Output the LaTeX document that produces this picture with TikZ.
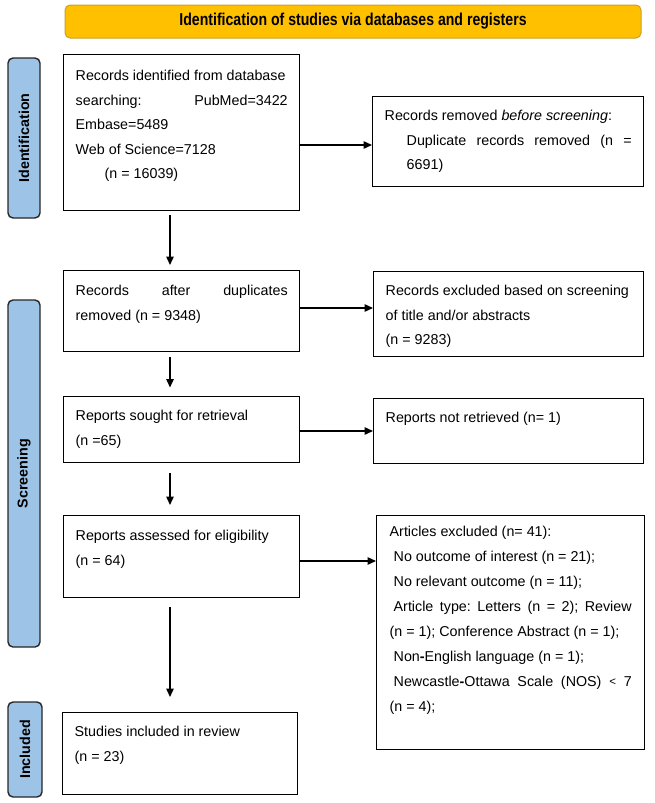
\documentclass[tikz,border=0pt]{standalone}
\usepackage{fontspec}
\setmainfont{Liberation Sans}
\newfontfamily\bannerfont{Liberation Sans}[FakeStretch=0.82]
\usetikzlibrary{arrows.meta}
\definecolor{bannerfill}{HTML}{FFC000}
\definecolor{bannerline}{HTML}{C9A02C}
\definecolor{phasefill}{HTML}{9DC3E6}
\definecolor{phaseline}{HTML}{262626}
\newcommand{\bt}[4]{\parbox[c][#2][t]{#1}{\fontsize{14.3}{24.5}\selectfont\rule{0pt}{#3}\ignorespaces#4}}
\newcommand{\btw}[4]{\parbox[c][#2][t]{#1}{\fontsize{14.3}{25}\selectfont\rule{0pt}{#3}\ignorespaces#4}}
\newcommand{\phaselabel}[1]{\rotatebox{90}{\fontsize{14.3}{17}\selectfont\bfseries #1}}
\begin{document}
\begin{tikzpicture}[x=1pt,y=-1pt,
  box/.style={draw, line width=1.4pt, inner sep=0pt, anchor=north west},
  phase/.style={draw=phaseline, fill=phasefill, rounded corners=5pt, line width=1.4pt, inner sep=0pt},
  banner/.style={draw=bannerline, fill=bannerfill, rounded corners=5pt, line width=1pt, inner sep=0pt},
  arr/.style={line width=1.4pt, -{Triangle[length=8.5pt,width=7.5pt]}}]
\useasboundingbox (0,0) rectangle (654,803);
% banner
\node[banner, minimum width=576pt, minimum height=33pt] (ban) at (353,21.5)
  {\bannerfont\bfseries\fontsize{17.2}{20}\selectfont Identification of studies via databases and registers};
% phase labels
\node[phase, minimum width=32pt, minimum height=160pt] (pid) at (24,138) {\phaselabel{Identification}};
\node[phase, minimum width=32pt, minimum height=347pt] (psc) at (24,473.5) {\phaselabel{Screening}};
\node[phase, minimum width=34pt, minimum height=95pt] (pin) at (25,749.5) {\phaselabel{Included}};
% left column
\node[box, minimum width=236pt, minimum height=156pt] (b1) at (63,54)
  {\bt{212pt}{156pt}{26pt}{Records identified from database\\
   searching:\hfill PubMed=3422\\
   Embase=5489\\
   Web of Science=7128\\
   \hspace*{29pt}(n = 16039)}};
\node[box, minimum width=236pt, minimum height=81pt] (b2) at (63,270)
  {\bt{212pt}{81pt}{25pt}{Records\hfill after\hfill duplicates\\
   removed (n = 9348)}};
\node[box, minimum width=236pt, minimum height=66pt] (b3) at (63,396)
  {\bt{212pt}{66pt}{24pt}{Reports sought for retrieval\\
   (n =65)}};
\node[box, minimum width=236pt, minimum height=82pt] (b4) at (63,515)
  {\bt{212pt}{82pt}{25pt}{Reports assessed for eligibility\\
   (n = 64)}};
\node[box, minimum width=235pt, minimum height=82pt] (b5) at (62,712)
  {\bt{211pt}{82pt}{24pt}{Studies included in review\\
   (n = 23)}};
% right column
\node[box, minimum width=271pt, minimum height=90pt] (r1) at (372,96)
  {\bt{247pt}{90pt}{24pt}{Records removed \textit{before screening}:\\
   \hspace*{22pt}Duplicate\hfill records\hfill removed\hfill (n\hfill =\\
   \hspace*{22pt}6691)}};
\node[box, minimum width=270pt, minimum height=85pt] (r2) at (373,271)
  {\bt{246pt}{85pt}{24pt}{Records excluded based on screening\\
   of title and/or abstracts\\
   (n = 9283)}};
\node[box, minimum width=270pt, minimum height=65pt] (r3) at (373,398)
  {\bt{246pt}{65pt}{24pt}{Reports not retrieved (n= 1)}};
\node[box, minimum width=268pt, minimum height=234pt] (r4) at (376,515)
  {\btw{242pt}{234pt}{21pt}{Articles excluded (n= 41):\\
   \hspace*{4pt}No outcome of interest (n = 21);\\
   \hspace*{4pt}No relevant outcome (n = 11);\\
   \hspace*{4pt}Article\hfill type:\hfill Letters\hfill (n\hfill =\hfill 2);\hfill Review\\
   (n = 1); Conference Abstract (n = 1);\\
   \hspace*{4pt}Non\textbf{-}English language (n = 1);\\
   \hspace*{4pt}Newcastle\textbf{-}Ottawa\hfill Scale\hfill (NOS)\hfill \raisebox{1pt}{\fontsize{11.5}{12}\selectfont <}\hfill 7\\
   (n = 4);}};
% vertical arrows
\draw[arr, shorten <=4pt, shorten >=5pt] (b1.south -| 170,0) -- (b2.north -| 170,0);
\draw[arr, shorten <=4.5pt, shorten >=8.5pt] (b2.south -| 170,0) -- (b3.north -| 170,0);
\draw[arr, shorten <=10pt, shorten >=10pt] (b3.south -| 170,0) -- (b4.north -| 170,0);
\draw[arr, shorten <=9pt, shorten >=15pt] (b4.south -| 170,0) -- (b5.north -| 170,0);
% horizontal arrows
\draw[arr] (b1.east |- 0,145) -- (r1.west |- 0,145);
\draw[arr] (b2.east |- 0,308) -- (r2.west |- 0,308);
\draw[arr] (b3.east |- 0,431) -- (r3.west |- 0,431);
\draw[arr] (b4.east |- 0,561) -- (r4.west |- 0,561);
\end{tikzpicture}
\end{document}
